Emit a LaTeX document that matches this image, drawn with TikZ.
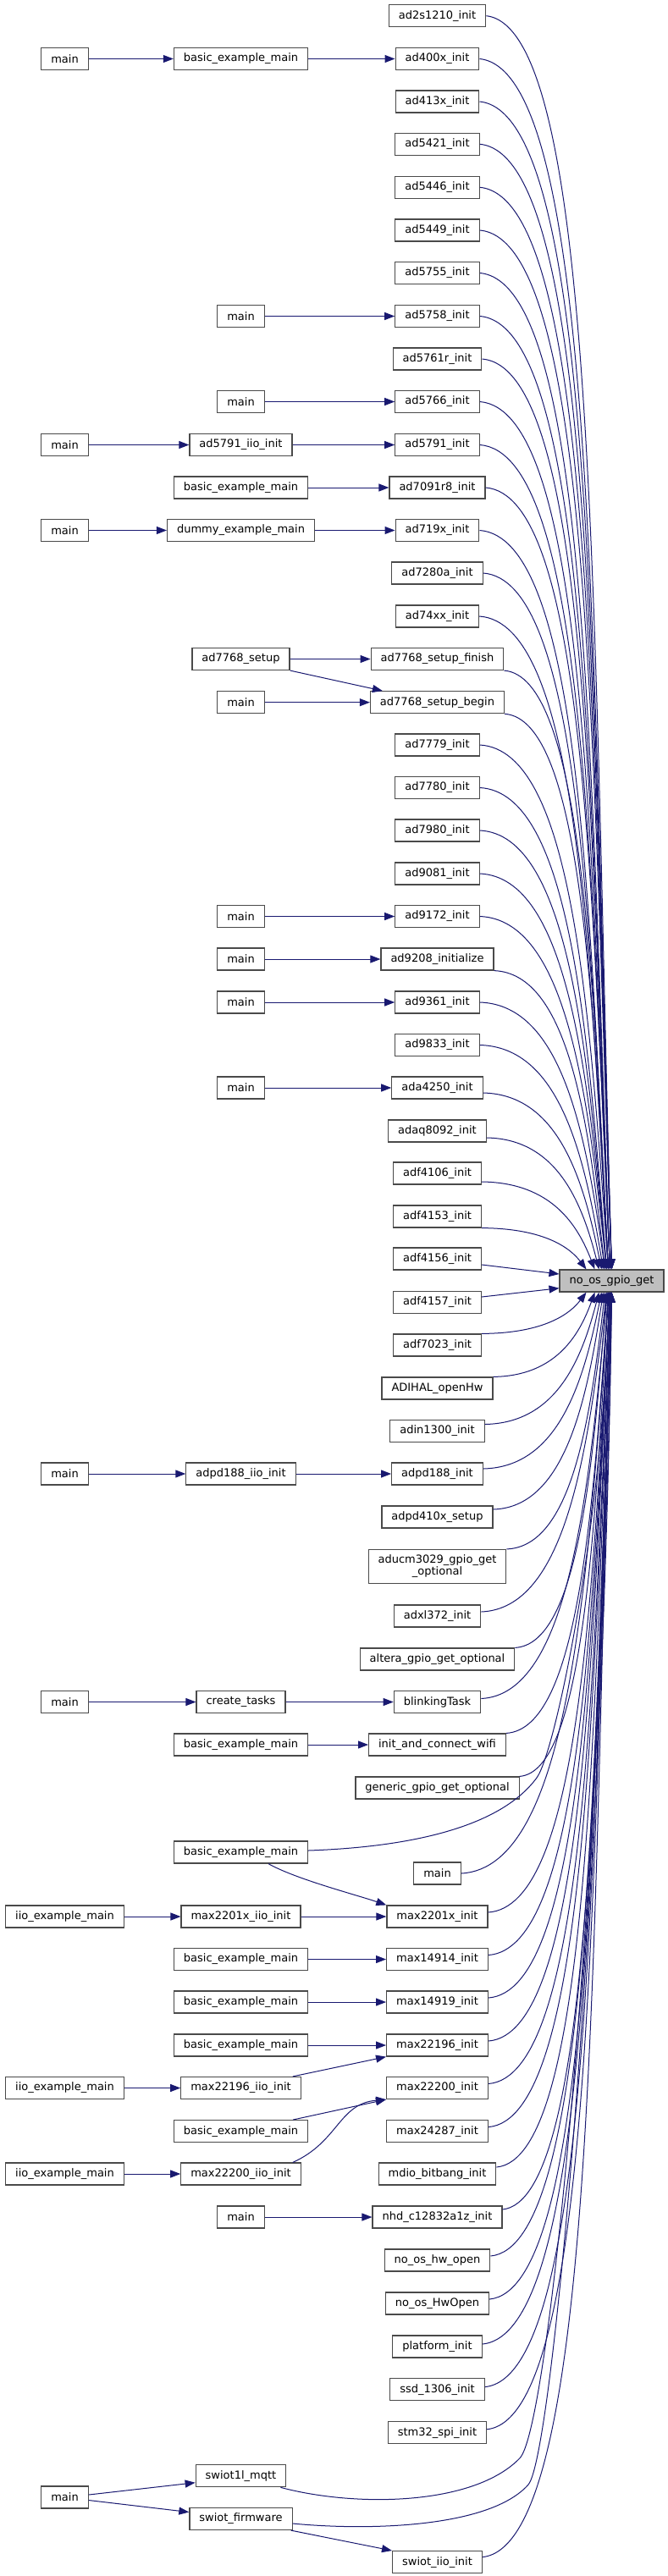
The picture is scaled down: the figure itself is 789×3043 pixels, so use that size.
\documentclass[tikz,border=0pt]{standalone}
\usepackage{fontspec}
\setmainfont{DejaVu Sans}
\usetikzlibrary{arrows.meta, calc}
\definecolor{callEdge}{HTML}{191970}
\definecolor{callLine}{HTML}{4A4A4A}
\definecolor{callRoot}{HTML}{BFBFBF}
\tikzset{
  callgraph/.style={
    x=1pt, y=-1pt,
    every node/.append style={font=\fontsize{13}{14}\selectfont},
    >={Triangle[length=12pt, width=9pt]},
  },
  fnnode/.style={
    draw=callLine, line width=1.2pt, fill=white, align=center,
    inner xsep=11.5pt, inner ysep=3pt, minimum height=26pt,
  },
  rootnode/.style={fnnode, fill=callRoot},
  call/.style={draw=callEdge, line width=1pt, ->},
  % Bogen nach rechts, der fast senkrecht in den Zielknoten laeuft.
  fanin/.style={to path={let \p1=(\tikztostart), \p2=(\tikztotarget) in
    .. controls ({\x1+(0.6+0.3*min(1,abs(\y2-\y1)/1500))*(\x2-\x1)}, {\y1+0.01*(\y2-\y1)})
    and ({\x2-0.15*(\x2-\x1)}, {0.5*(\y1+\y2)}) .. (\p2)}},
}

\begin{document}
\begin{tikzpicture}[callgraph]
  \useasboundingbox (0,0) rectangle (789,3043);
  \node[fnnode] (Ad2s1210Init) at (516.5,18.7) {ad2s1210\_init};
  \node[fnnode] (Main1) at (76.5,69.5) {main};
  \node[fnnode] (BasicExample1) at (284.5,69.5) {basic\_example\_main};
  \node[fnnode] (Ad400xInit) at (516.5,69.5) {ad400x\_init};
  \node[fnnode] (Ad413xInit) at (516.5,120) {ad413x\_init};
  \node[fnnode] (Ad5421Init) at (516.5,170.3) {ad5421\_init};
  \node[fnnode] (Ad5446Init) at (516.5,221.3) {ad5446\_init};
  \node[fnnode] (Ad5449Init) at (516.5,272) {ad5449\_init};
  \node[fnnode] (Ad5755Init) at (516.5,322.5) {ad5755\_init};
  \node[fnnode] (Main2) at (284.5,373.5) {main};
  \node[fnnode] (Ad5758Init) at (516.5,373.5) {ad5758\_init};
  \node[fnnode] (Ad5761rInit) at (516.5,424) {ad5761r\_init};
  \node[fnnode] (Main3) at (284.5,474.5) {main};
  \node[fnnode] (Ad5766Init) at (516.5,474.5) {ad5766\_init};
  \node[fnnode] (Main4) at (76.5,525.5) {main};
  \node[fnnode] (Ad5791IioInit) at (284.5,525.5) {ad5791\_iio\_init};
  \node[fnnode] (Ad5791Init) at (516.5,525.5) {ad5791\_init};
  \node[fnnode] (BasicExample2) at (284.5,576) {basic\_example\_main};
  \node[fnnode] (Ad7091r8Init) at (516.5,576) {ad7091r8\_init};
  \node[fnnode] (Main5) at (76.5,626.5) {main};
  \node[fnnode] (DummyExample) at (284.5,626.5) {dummy\_example\_main};
  \node[fnnode] (Ad719xInit) at (516.5,626.5) {ad719x\_init};
  \node[fnnode] (Ad7280aInit) at (516.5,677) {ad7280a\_init};
  \node[fnnode] (Ad74xxInit) at (516.5,728) {ad74xx\_init};
  \node[fnnode] (Ad7768Setup) at (284.5,778.5) {ad7768\_setup};
  \node[fnnode] (Ad7768SetupFinish) at (516.5,778.5) {ad7768\_setup\_finish};
  \node[fnnode] (Main6) at (284.5,829.7) {main};
  \node[fnnode] (Ad7768SetupBegin) at (516.5,829.7) {ad7768\_setup\_begin};
  \node[fnnode] (Ad7779Init) at (516.5,880) {ad7779\_init};
  \node[fnnode] (Ad7780Init) at (516.5,930.5) {ad7780\_init};
  \node[fnnode] (Ad7980Init) at (516.5,981) {ad7980\_init};
  \node[fnnode] (Ad9081Init) at (516.5,1032) {ad9081\_init};
  \node[fnnode] (Main7) at (284.5,1082.5) {main};
  \node[fnnode] (Ad9172Init) at (516.5,1082.5) {ad9172\_init};
  \node[fnnode] (Main8) at (284.5,1133) {main};
  \node[fnnode] (Ad9208Initialize) at (516.5,1133) {ad9208\_initialize};
  \node[fnnode] (Main9) at (284.5,1184) {main};
  \node[fnnode] (Ad9361Init) at (516.5,1184) {ad9361\_init};
  \node[fnnode] (Ad9833Init) at (516.5,1234.5) {ad9833\_init};
  \node[fnnode] (Main10) at (284.5,1285) {main};
  \node[fnnode] (Ada4250Init) at (516.5,1285) {ada4250\_init};
  \node[fnnode] (Adaq8092Init) at (516.5,1336) {adaq8092\_init};
  \node[fnnode] (Adf4106Init) at (516.5,1386) {adf4106\_init};
  \node[fnnode] (Adf4153Init) at (516.5,1437) {adf4153\_init};
  \node[fnnode] (Adf4156Init) at (516.5,1487) {adf4156\_init};
  \node[rootnode] (GpioGet) at (722.5,1513) {no\_os\_gpio\_get};
  \node[fnnode] (Adf4157Init) at (516.5,1538.5) {adf4157\_init};
  \node[fnnode] (Adf7023Init) at (516.5,1589) {adf7023\_init};
  \node[fnnode] (AdihalOpenHw) at (516.5,1640) {ADIHAL\_openHw};
  \node[fnnode] (Adin1300Init) at (516.5,1690.5) {adin1300\_init};
  \node[fnnode] (Main11) at (76.5,1741) {main};
  \node[fnnode] (Adpd188IioInit) at (284.5,1741) {adpd188\_iio\_init};
  \node[fnnode] (Adpd188Init) at (516.5,1741) {adpd188\_init};
  \node[fnnode] (Adpd410xSetup) at (516.5,1792) {adpd410x\_setup};
  \node[fnnode, minimum height=40pt] (Aducm3029Gpio) at (516.5,1850.5) {aducm3029\_gpio\_get\\\_optional};
  \node[fnnode] (Adxl372Init) at (516.5,1909) {adxl372\_init};
  \node[fnnode] (AlteraGpio) at (516.5,1960) {altera\_gpio\_get\_optional};
  \node[fnnode] (Main12) at (76.5,2010.5) {main};
  \node[fnnode] (CreateTasks) at (284.5,2010.5) {create\_tasks};
  \node[fnnode] (BlinkingTask) at (516.5,2010.5) {blinkingTask};
  \node[fnnode] (BasicExample3) at (284.5,2061) {basic\_example\_main};
  \node[fnnode] (InitConnectWifi) at (516.5,2061) {init\_and\_connect\_wifi};
  \node[fnnode] (GenericGpio) at (516.5,2112) {generic\_gpio\_get\_optional};
  \node[fnnode] (BasicExample4) at (284.5,2188) {basic\_example\_main};
  \node[fnnode] (Main13) at (516.5,2213) {main};
  \node[fnnode] (IioExample1) at (76.5,2264) {iio\_example\_main};
  \node[fnnode] (Max2201xIioInit) at (284.5,2264) {max2201x\_iio\_init};
  \node[fnnode] (Max2201xInit) at (516.5,2264) {max2201x\_init};
  \node[fnnode] (BasicExample5) at (284.5,2314.5) {basic\_example\_main};
  \node[fnnode] (Max14914Init) at (516.5,2314.5) {max14914\_init};
  \node[fnnode] (BasicExample6) at (284.5,2365) {basic\_example\_main};
  \node[fnnode] (Max14919Init) at (516.5,2365) {max14919\_init};
  \node[fnnode] (BasicExample7) at (284.5,2416) {basic\_example\_main};
  \node[fnnode] (Max22196Init) at (516.5,2416) {max22196\_init};
  \node[fnnode] (IioExample2) at (76.5,2466.5) {iio\_example\_main};
  \node[fnnode] (Max22196IioInit) at (284.5,2466.5) {max22196\_iio\_init};
  \node[fnnode] (Max22200Init) at (516.5,2466.5) {max22200\_init};
  \node[fnnode] (BasicExample8) at (284.5,2517.6) {basic\_example\_main};
  \node[fnnode] (Max24287Init) at (516.5,2517.6) {max24287\_init};
  \node[fnnode] (IioExample3) at (76.5,2568) {iio\_example\_main};
  \node[fnnode] (Max22200IioInit) at (284.5,2568) {max22200\_iio\_init};
  \node[fnnode] (MdioBitbangInit) at (516.5,2568) {mdio\_bitbang\_init};
  \node[fnnode] (Main14) at (284.5,2619) {main};
  \node[fnnode] (NhdC12832Init) at (516.5,2619) {nhd\_c12832a1z\_init};
  \node[fnnode] (NoOsHwOpen) at (516.5,2670) {no\_os\_hw\_open};
  \node[fnnode] (NoOsHwOpenCaps) at (516.5,2721) {no\_os\_HwOpen};
  \node[fnnode] (PlatformInit) at (516.5,2772) {platform\_init};
  \node[fnnode] (Ssd1306Init) at (516.5,2822.6) {ssd\_1306\_init};
  \node[fnnode] (Stm32SpiInit) at (516.5,2873.7) {stm32\_spi\_init};
  \node[fnnode] (Swiot1lMqtt) at (284.5,2924.7) {swiot1l\_mqtt};
  \node[fnnode] (Main15) at (76.5,2950) {main};
  \node[fnnode] (SwiotFirmware) at (284.5,2975.5) {swiot\_firmware};
  \node[fnnode] (SwiotIioInit) at (516.5,3026.6) {swiot\_iio\_init};
  \draw[call] (Main1) -- (BasicExample1);
  \draw[call] (BasicExample1) -- (Ad400xInit);
  \draw[call] (Main2) -- (Ad5758Init);
  \draw[call] (Main3) -- (Ad5766Init);
  \draw[call] (Main4) -- (Ad5791IioInit);
  \draw[call] (Ad5791IioInit) -- (Ad5791Init);
  \draw[call] (BasicExample2) -- (Ad7091r8Init);
  \draw[call] (Main5) -- (DummyExample);
  \draw[call] (DummyExample) -- (Ad719xInit);
  \draw[call] (Ad7768Setup) -- (Ad7768SetupFinish);
  \draw[call] (Ad7768Setup.south east) -- ([xshift=15pt]Ad7768SetupBegin.north west);
  \draw[call] (Main6) -- (Ad7768SetupBegin);
  \draw[call] (Main7) -- (Ad9172Init);
  \draw[call] (Main8) -- (Ad9208Initialize);
  \draw[call] (Main9) -- (Ad9361Init);
  \draw[call] (Main10) -- (Ada4250Init);
  \draw[call] (Main11) -- (Adpd188IioInit);
  \draw[call] (Adpd188IioInit) -- (Adpd188Init);
  \draw[call] (Main12) -- (CreateTasks);
  \draw[call] (CreateTasks) -- (BlinkingTask);
  \draw[call] (BasicExample3) -- (InitConnectWifi);
  \draw[call] ([xshift=32.5pt]BasicExample4.south) .. controls (350,2220) and (420,2238) .. (Max2201xInit.north west);
  \draw[call] (IioExample1) -- (Max2201xIioInit);
  \draw[call] (Max2201xIioInit) -- (Max2201xInit);
  \draw[call] (BasicExample5) -- (Max14914Init);
  \draw[call] (BasicExample6) -- (Max14919Init);
  \draw[call] (BasicExample7) -- (Max22196Init);
  \draw[call] (IioExample2) -- (Max22196IioInit);
  \draw[call] ([xshift=-10pt]Max22196IioInit.north east) -- (Max22196Init.south west);
  \draw[call] ([xshift=-18pt]BasicExample8.north east) -- (Max22200Init.south west);
  \draw[call] (IioExample3) -- (Max22200IioInit);
  \draw[call] ([xshift=-10pt]Max22200IioInit.north east) .. controls (400,2530) and (400,2485) .. (Max22200Init.south west);
  \draw[call] (Main14) -- (NhdC12832Init);
  \draw[call] ([yshift=3pt]Main15.east) -- ([yshift=-8pt]Swiot1lMqtt.west);
  \draw[call] ([yshift=-3.5pt]Main15.east) -- ([yshift=8pt]SwiotFirmware.west);
  \draw[call] ([xshift=-2pt]SwiotFirmware.south east) -- (SwiotIioInit.north west);
  \draw[call] (Ad2s1210Init.east) to[fanin] (GpioGet.north);
  \draw[call] (Ad400xInit.east) to[fanin] (GpioGet.north);
  \draw[call] (Ad413xInit.east) to[fanin] (GpioGet.north);
  \draw[call] (Ad5421Init.east) to[fanin] (GpioGet.north);
  \draw[call] (Ad5446Init.east) to[fanin] (GpioGet.north);
  \draw[call] (Ad5449Init.east) to[fanin] (GpioGet.north);
  \draw[call] (Ad5755Init.east) to[fanin] ([xshift=-2pt]GpioGet.north);
  \draw[call] (Ad5758Init.east) to[fanin] ([xshift=-2pt]GpioGet.north);
  \draw[call] (Ad5761rInit.east) to[fanin] ([xshift=-2pt]GpioGet.north);
  \draw[call] (Ad5766Init.east) to[fanin] ([xshift=-2pt]GpioGet.north);
  \draw[call] (Ad5791Init.east) to[fanin] ([xshift=-2pt]GpioGet.north);
  \draw[call] (Ad7091r8Init.east) to[fanin] ([xshift=-2pt]GpioGet.north);
  \draw[call] (Ad719xInit.east) to[fanin] ([xshift=-4pt]GpioGet.north);
  \draw[call] (Ad7280aInit.east) to[fanin] ([xshift=-4pt]GpioGet.north);
  \draw[call] (Ad74xxInit.east) to[fanin] ([xshift=-4pt]GpioGet.north);
  \draw[call] (Ad7768SetupFinish.south east) to[fanin] ([xshift=-4pt]GpioGet.north);
  \draw[call] (Ad7768SetupBegin.south east) to[fanin] ([xshift=-4pt]GpioGet.north);
  \draw[call] (Ad7779Init.east) to[fanin] ([xshift=-4pt]GpioGet.north);
  \draw[call] (Ad7780Init.east) to[fanin] ([xshift=-6pt]GpioGet.north);
  \draw[call] (Ad7980Init.east) to[fanin] ([xshift=-6pt]GpioGet.north);
  \draw[call] (Ad9081Init.east) to[fanin] ([xshift=-6pt]GpioGet.north);
  \draw[call] (Ad9172Init.east) to[fanin] ([xshift=-6pt]GpioGet.north);
  \draw[call] (Ad9208Initialize.south east) to[fanin] ([xshift=-8pt]GpioGet.north);
  \draw[call] (Ad9361Init.east) to[fanin] ([xshift=-8pt]GpioGet.north);
  \draw[call] (Ad9833Init.east) to[fanin] ([xshift=-10pt]GpioGet.north);
  \draw[call] ([yshift=-6pt]Ada4250Init.east) to[fanin] ([xshift=-12pt]GpioGet.north);
  \draw[call] ([yshift=-8pt]Adaq8092Init.east) to[fanin] ([xshift=-15pt]GpioGet.north);
  \draw[call] ([yshift=-10pt]Adf4106Init.east) to[fanin] ([xshift=-20pt]GpioGet.north);
  \draw[call] (Adf4153Init.south east) to[fanin] ([xshift=-30pt]GpioGet.north);
  \draw[call] ([yshift=-7pt]Adf4156Init.east) -- ([yshift=8pt]GpioGet.west);
  \draw[call] ([yshift=6.5pt]Adf4157Init.east) -- ([yshift=-8.7pt]GpioGet.west);
  \draw[call] (Adf7023Init.north east) to[fanin] ([xshift=-30pt]GpioGet.south);
  \draw[call] (AdihalOpenHw.north east) to[fanin] ([xshift=-20pt]GpioGet.south);
  \draw[call] ([yshift=8pt]Adin1300Init.east) to[fanin] ([xshift=-15pt]GpioGet.south);
  \draw[call] ([yshift=6pt]Adpd188Init.east) to[fanin] ([xshift=-12pt]GpioGet.south);
  \draw[call] ([yshift=9pt]Adpd410xSetup.east) to[fanin] ([xshift=-10pt]GpioGet.south);
  \draw[call] (Aducm3029Gpio.north east) to[fanin] ([xshift=-8pt]GpioGet.south);
  \draw[call] ([yshift=5pt]Adxl372Init.east) to[fanin] ([xshift=-6pt]GpioGet.south);
  \draw[call] (AlteraGpio.north east) to[fanin] ([xshift=-6pt]GpioGet.south);
  \draw[call] ([yshift=4pt]BlinkingTask.east) to[fanin] ([xshift=-5pt]GpioGet.south);
  \draw[call] (InitConnectWifi.north east) to[fanin] ([xshift=-4pt]GpioGet.south);
  \draw[call] (GenericGpio.north east) to[fanin] ([xshift=-4pt]GpioGet.south);
  \draw[call] ([yshift=2pt]BasicExample4.east) .. controls (480,2182) and (590,2160) .. (634,2100) .. controls (656,2070) and (712,1800) .. ([xshift=-3pt]GpioGet.south);
  \draw[call] (Main13.east) to[fanin] ([xshift=-3pt]GpioGet.south);
  \draw[call] ([yshift=5pt]Max2201xInit.east) to[fanin] ([xshift=-2pt]GpioGet.south);
  \draw[call] ([yshift=5pt]Max14914Init.east) to[fanin] ([xshift=-2pt]GpioGet.south);
  \draw[call] ([yshift=5pt]Max14919Init.east) to[fanin] ([xshift=-2pt]GpioGet.south);
  \draw[call] ([yshift=5pt]Max22196Init.east) to[fanin] ([xshift=-2pt]GpioGet.south);
  \draw[call] ([yshift=5pt]Max22200Init.east) to[fanin] ([xshift=-1pt]GpioGet.south);
  \draw[call] ([yshift=5pt]Max24287Init.east) to[fanin] ([xshift=-1pt]GpioGet.south);
  \draw[call] ([yshift=8pt]MdioBitbangInit.east) to[fanin] ([xshift=-1pt]GpioGet.south);
  \draw[call] ([yshift=9pt]NhdC12832Init.east) to[fanin] (GpioGet.south);
  \draw[call] ([yshift=5pt]NoOsHwOpen.east) to[fanin] (GpioGet.south);
  \draw[call] ([yshift=5pt]NoOsHwOpenCaps.east) to[fanin] (GpioGet.south);
  \draw[call] ([yshift=3pt]PlatformInit.east) to[fanin] (GpioGet.south);
  \draw[call] ([yshift=3pt]Ssd1306Init.east) to[fanin] (GpioGet.south);
  \draw[call] ([yshift=4pt]Stm32SpiInit.east) to[fanin] (GpioGet.south);
  \draw[call] ([xshift=-7pt]Swiot1lMqtt.south east) .. controls (420,2962) and (560,2960) .. (614,2903.7) .. controls (650,2866) and (712,2200) .. (GpioGet.south);
  \draw[call] ([yshift=-5.5pt]SwiotFirmware.east) .. controls (440,2990) and (580,2985) .. (624,2935) .. controls (654,2901) and (714,2200) .. (GpioGet.south);
  \draw[call] ([yshift=6pt]SwiotIioInit.east) to[fanin] (GpioGet.south);
\end{tikzpicture}
\end{document}
